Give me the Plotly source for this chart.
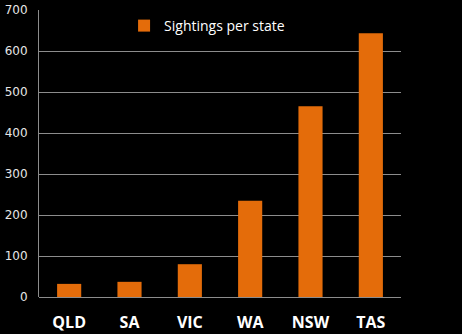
import plotly.graph_objects as go

states = ["QLD", "SA", "VIC", "WA", "NSW", "TAS"]
sightings = [32, 37, 80, 235, 465, 643]
y_ticks = [0, 100, 200, 300, 400, 500, 600, 700]

fig = go.Figure(
    go.Bar(
        x=states,
        y=sightings,
        name="Sightings per state",
        marker=dict(color="#E46C0A", line=dict(width=0)),
        showlegend=True,
    )
)

fig.update_layout(
    width=462,
    height=334,
    paper_bgcolor="#000000",
    plot_bgcolor="#000000",
    margin=dict(l=39, r=61, t=10, b=37),
    bargap=0.6,
    legend=dict(
        x=0.235,
        y=1.0,
        xanchor="left",
        yanchor="top",
        orientation="h",
        bgcolor="rgba(0,0,0,0)",
        font=dict(family="Open Sans", size=14, color="#FFFFFF"),
    ),
    xaxis=dict(
        automargin=False,
        showline=False,
        showgrid=False,
        ticks="",
        ticklabelstandoff=14,
        tickfont=dict(family="Open Sans", size=16, color="#FFFFFF", weight="bold"),
        fixedrange=True,
    ),
    yaxis=dict(
        automargin=False,
        range=[0, 700],
        tickvals=y_ticks,
        showgrid=True,
        gridcolor="#8C8C8C",
        gridwidth=1,
        showline=True,
        linecolor="#8C8C8C",
        linewidth=1,
        zeroline=True,
        zerolinecolor="#8C8C8C",
        zerolinewidth=1,
        ticks="",
        ticklabelstandoff=8,
        tickfont=dict(family="DejaVu Sans", size=12, color="#E6E6E6"),
    ),
)

fig.write_html("out.html")
